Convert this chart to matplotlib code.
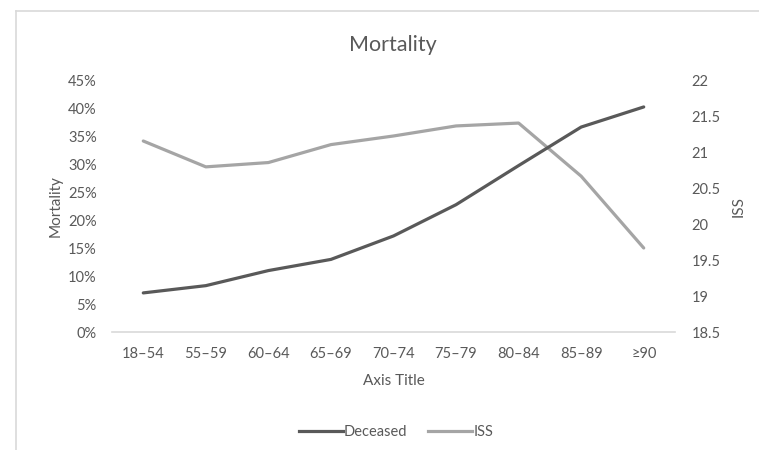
import matplotlib
matplotlib.use("Agg")
import matplotlib.pyplot as plt
from matplotlib.lines import Line2D
from matplotlib.ticker import FuncFormatter, MultipleLocator

# age groups and the two series
age_groups = ["18–54", "55–59", "60–64", "65–69", "70–74", "75–79", "80–84", "85–89", "≥90"]
deceased = [0.070, 0.083, 0.110, 0.130, 0.172, 0.228, 0.298, 0.367, 0.403]
iss = [21.16, 20.80, 20.86, 21.11, 21.23, 21.37, 21.41, 20.67, 19.67]

plt.rcParams["font.family"] = ["Lato", "DejaVu Sans"]
text_col = "#595959"

fig = plt.figure(figsize=(7.59, 4.5), dpi=100)
ax = fig.add_axes([112 / 759, 118 / 450, 563 / 759, 251.3 / 450])
ax2 = ax.twinx()

x = list(range(len(age_groups)))
ax.plot(x, deceased, color="#595959", lw=2.3, solid_capstyle="round", zorder=3)
ax2.plot(x, iss, color="#A5A5A5", lw=2.3, solid_capstyle="round", zorder=2)
ax.set_zorder(ax2.get_zorder() + 1)
ax.patch.set_visible(False)

ax.set_xlim(-0.5, len(age_groups) - 0.5)
ax.set_ylim(0, 0.45)
ax2.set_ylim(18.5, 22)
ax.yaxis.set_major_locator(MultipleLocator(0.05))
ax.yaxis.set_major_formatter(FuncFormatter(lambda v, p: f"{v * 100:.0f}%"))
ax2.yaxis.set_major_locator(MultipleLocator(0.5))
ax2.yaxis.set_major_formatter(FuncFormatter(lambda v, p: f"{v:g}"))

ax.set_xticks(x)
ax.set_xticklabels(age_groups)

for a in (ax, ax2):
    for s in a.spines.values():
        s.set_visible(False)
    a.tick_params(length=0, labelsize=10.5, colors=text_col)
ax.spines["bottom"].set_visible(True)
ax.spines["bottom"].set_color("#D9D9D9")
ax.spines["bottom"].set_linewidth(1.2)
ax.tick_params(axis="x", pad=11)
ax.tick_params(axis="y", pad=11)
ax2.tick_params(axis="y", pad=12)

ax.set_xlabel("Axis Title", fontsize=11, color=text_col, labelpad=9)
ax.set_ylabel("Mortality", fontsize=11, color=text_col, labelpad=4)
ax2.set_ylabel("ISS", fontsize=11, color=text_col, labelpad=8)

fig.text(393 / 759, 1 - 45 / 450, "Mortality", fontsize=15.5, color=text_col,
         ha="center", va="center")

# legend under the chart
handles = [Line2D([], [], color="#595959", lw=2.3),
           Line2D([], [], color="#A5A5A5", lw=2.3)]
fig.legend(handles, ["Deceased", "ISS"], loc="center", bbox_to_anchor=(396 / 759, 1 - 432 / 450),
           ncol=2, frameon=False, fontsize=10.5, labelcolor=text_col,
           handlelength=3.0, handletextpad=0.1, columnspacing=1.4)

# chart area border (left and top edges)
fig.add_artist(Line2D([15.5 / 759, 15.5 / 759], [0, 1 - 11 / 450], color="#D9D9D9", lw=1.2))
fig.add_artist(Line2D([15.5 / 759, 1], [1 - 11 / 450, 1 - 11 / 450], color="#D9D9D9", lw=1.2))

fig.savefig("out.png", dpi=100)
